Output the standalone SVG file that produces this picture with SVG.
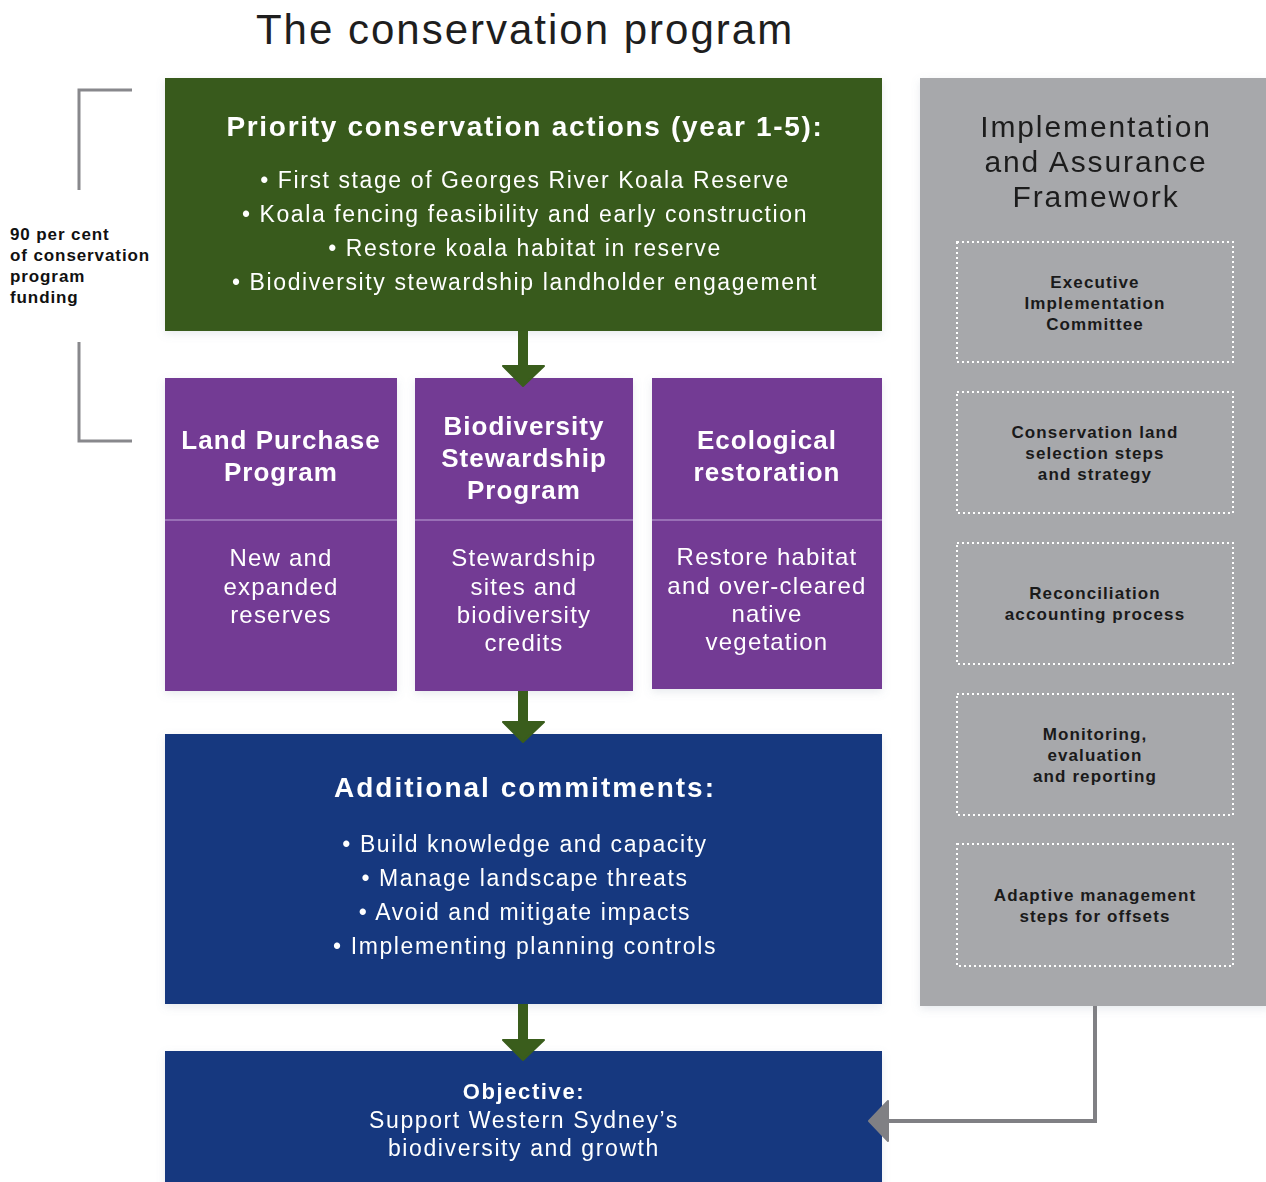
<svg xmlns="http://www.w3.org/2000/svg" width="1266" height="1182" viewBox="0 0 1266 1182">
<defs>
<style>
text{font-family:"Liberation Sans","Noto Sans",Arial,sans-serif;text-anchor:middle}
.hb{font-weight:bold;font-size:28px;fill:#ffffff;letter-spacing:1.7px}
.bl{font-size:23px;fill:#ffffff;letter-spacing:1.6px}
.ph{font-weight:bold;font-size:26px;fill:#ffffff;letter-spacing:1px}
.pb{font-size:24px;fill:#ffffff;letter-spacing:1.2px}
.gb{font-weight:bold;font-size:17px;fill:#1a1a1a;letter-spacing:1.1px}
.lb{text-anchor:start;font-weight:bold;font-size:17px;fill:#111;letter-spacing:0.9px}
.gt{font-size:30px;fill:#1e1e1e;letter-spacing:1.9px}
.dot{fill:none;stroke:#ffffff;stroke-width:2;stroke-dasharray:2 3}
.green{fill:#395a1e}
.purple{fill:#733a94}
.blue{fill:#14387f}
.div{stroke:#a683c2;stroke-width:1.5}
.garrow{fill:#3a5d1c}
.brk{fill:none;stroke:#88888c;stroke-width:3}
</style>
<filter id="sh" x="-5%" y="-5%" width="110%" height="115%">
<feDropShadow dx="0" dy="3" stdDeviation="4" flood-color="#7a8aa0" flood-opacity="0.18"/>
</filter>
</defs>
<rect width="1266" height="1182" fill="#ffffff"/>
<text x="525" y="44" style="font-size:42px;fill:#1e1e1e;letter-spacing:2px">The conservation program</text>

<g id="funding-note">
<path class="brk" d="M132,90 H79 V190"/>
<path class="brk" d="M79,342 V441 H132"/>
<text class="lb" x="10" y="240">90 per cent</text>
<text class="lb" x="10" y="261">of conservation</text>
<text class="lb" x="10" y="282">program</text>
<text class="lb" x="10" y="303">funding</text>
</g>

<g id="priority" filter="url(#sh)">
<rect class="green" x="165" y="78" width="717" height="253"/>
<text class="hb" x="525" y="136">Priority conservation actions (year 1-5):</text>
<text class="bl" x="525" y="188">•  First stage of Georges River Koala Reserve</text>
<text class="bl" x="525" y="222">•  Koala fencing feasibility and early construction</text>
<text class="bl" x="525" y="256">•  Restore koala habitat in reserve</text>
<text class="bl" x="525" y="290">•  Biodiversity stewardship landholder engagement</text>
</g>

<g id="land-purchase" filter="url(#sh)">
<rect class="purple" x="165" y="378" width="232" height="313"/>
<line class="div" x1="165" y1="520" x2="397" y2="520"/>
<text class="ph" x="281" y="449">Land Purchase</text>
<text class="ph" x="281" y="481">Program</text>
<text class="pb" x="281" y="566">New and</text>
<text class="pb" x="281" y="595">expanded</text>
<text class="pb" x="281" y="623">reserves</text>
</g>

<g id="stewardship" filter="url(#sh)">
<rect class="purple" x="415" y="378" width="218" height="313"/>
<line class="div" x1="415" y1="520" x2="633" y2="520"/>
<text class="ph" x="524" y="435">Biodiversity</text>
<text class="ph" x="524" y="467">Stewardship</text>
<text class="ph" x="524" y="499">Program</text>
<text class="pb" x="524" y="566">Stewardship</text>
<text class="pb" x="524" y="595">sites and</text>
<text class="pb" x="524" y="623">biodiversity</text>
<text class="pb" x="524" y="651">credits</text>
</g>

<g id="ecological" filter="url(#sh)">
<rect class="purple" x="652" y="378" width="230" height="311"/>
<line class="div" x1="652" y1="520" x2="882" y2="520"/>
<text class="ph" x="767" y="449">Ecological</text>
<text class="ph" x="767" y="481">restoration</text>
<text class="pb" x="767" y="565">Restore habitat</text>
<text class="pb" x="767" y="594">and over-cleared</text>
<text class="pb" x="767" y="622">native</text>
<text class="pb" x="767" y="650">vegetation</text>
</g>

<g id="additional" filter="url(#sh)">
<rect class="blue" x="165" y="734" width="717" height="270"/>
<text class="hb" x="525" y="797" style="letter-spacing:2px">Additional commitments:</text>
<text class="bl" x="525" y="852">•  Build knowledge and capacity</text>
<text class="bl" x="525" y="886">•  Manage landscape threats</text>
<text class="bl" x="525" y="920">•  Avoid and mitigate impacts</text>
<text class="bl" x="525" y="954">•  Implementing planning controls</text>
</g>

<g id="objective" filter="url(#sh)">
<rect class="blue" x="165" y="1051" width="717" height="140"/>
<text x="524" y="1099" style="font-weight:bold;font-size:22px;fill:#fff;letter-spacing:1.6px">Objective:</text>
<text class="bl" x="524" y="1128">Support Western Sydney’s</text>
<text class="bl" x="524" y="1156">biodiversity and growth</text>
</g>

<g id="framework" filter="url(#sh)">
<rect x="920" y="78" width="350" height="928" fill="#a7a8ab"/>
<text class="gt" x="1096" y="137">Implementation</text>
<text class="gt" x="1096" y="172">and Assurance</text>
<text class="gt" x="1096" y="207">Framework</text>
</g>

<g id="executive">
<rect class="dot" x="957" y="242" width="276" height="120"/>
<text class="gb" x="1095" y="288">Executive</text>
<text class="gb" x="1095" y="309">Implementation</text>
<text class="gb" x="1095" y="330">Committee</text>
</g>
<g id="land-selection">
<rect class="dot" x="957" y="392" width="276" height="121"/>
<text class="gb" x="1095" y="438">Conservation land</text>
<text class="gb" x="1095" y="459">selection steps</text>
<text class="gb" x="1095" y="480">and strategy</text>
</g>
<g id="reconciliation">
<rect class="dot" x="957" y="543" width="276" height="121"/>
<text class="gb" x="1095" y="599">Reconciliation</text>
<text class="gb" x="1095" y="620">accounting process</text>
</g>
<g id="monitoring">
<rect class="dot" x="957" y="694" width="276" height="121"/>
<text class="gb" x="1095" y="740">Monitoring,</text>
<text class="gb" x="1095" y="761">evaluation</text>
<text class="gb" x="1095" y="782">and reporting</text>
</g>
<g id="adaptive">
<rect class="dot" x="957" y="844" width="276" height="122"/>
<text class="gb" x="1095" y="901">Adaptive management</text>
<text class="gb" x="1095" y="922">steps for offsets</text>
</g>

<g id="connectors">
<rect class="garrow" x="518" y="331" width="10" height="38"/>
<path class="garrow" d="M503,366 L544,366 L523,386 Z" stroke="#3a5d1c" stroke-width="2" stroke-linejoin="round"/>
<rect class="garrow" x="518" y="691" width="10" height="33"/>
<path class="garrow" d="M503,722 L544,722 L523,742 Z" stroke="#3a5d1c" stroke-width="2" stroke-linejoin="round"/>
<rect class="garrow" x="518" y="1004" width="10" height="38"/>
<path class="garrow" d="M503,1040 L544,1040 L523,1060 Z" stroke="#3a5d1c" stroke-width="2" stroke-linejoin="round"/>
<path d="M1095,1006 V1121 H886" fill="none" stroke="#808084" stroke-width="4"/>
<path d="M869,1121 L888,1101 L888,1141 Z" fill="#808084" stroke="#808084" stroke-width="2" stroke-linejoin="round"/>
</g>
</svg>
